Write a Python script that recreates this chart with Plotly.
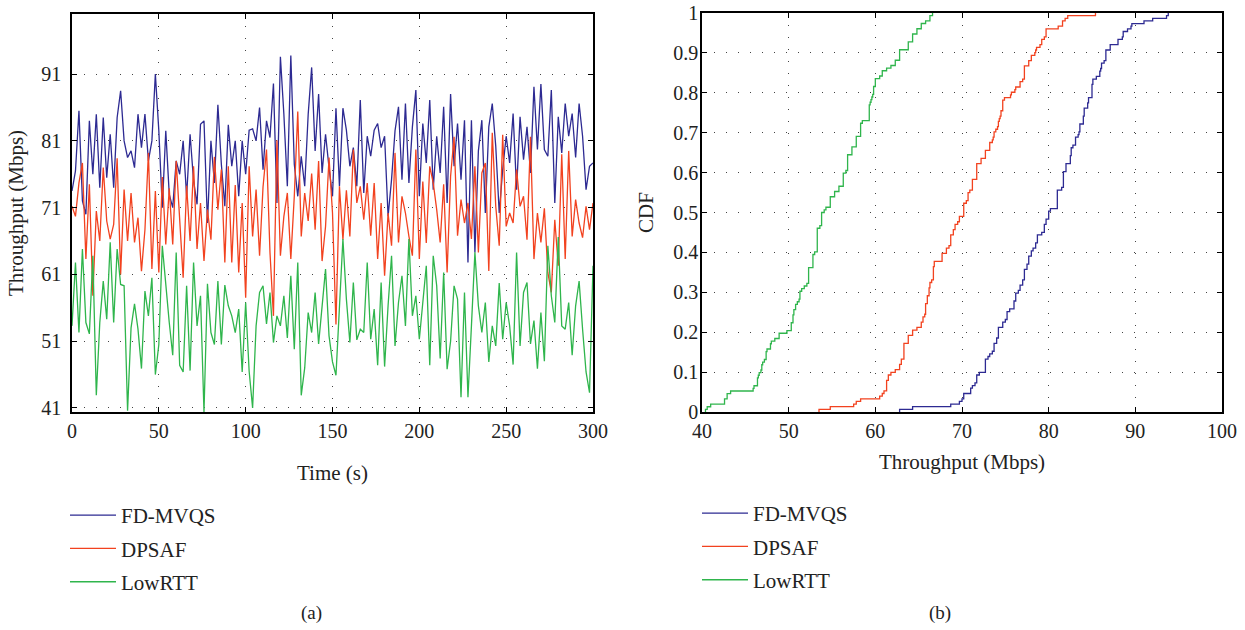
import numpy as np
import plotly.graph_objects as go

# time axis (s), one sample every 2 s
time_s = list(range(0, 301, 2))

fd_mvqs = [73.5, 76.5, 85.5, 72, 70, 84, 76, 85, 74, 84.5, 75.5, 82, 74, 84.5, 88.5, 81,
           78.5, 79.5, 77, 85, 80, 85, 78, 81, 91, 82.5, 71, 82.5, 73, 71, 78, 76,
           81, 72.7, 82, 75, 71.5, 83.5, 84, 68.7, 81, 74.7, 86.4, 77.5, 71.2, 83.4, 77.2, 81,
           72.7, 81, 76, 82.6, 82.8, 81, 86, 76.7, 84, 81.5, 89.6, 71.7, 93.6, 85,
           74.2, 93.8, 77.5, 72.7, 78.7, 74.2, 85, 92, 79.5, 88, 76.2, 82, 77, 72.7,
           85.9, 74.2, 85.9, 82.6, 77.2, 80, 74.2, 87.1, 73.2, 81.7, 78.7, 82.6, 83.6, 80,
           81.7, 69.7, 75.2, 82.5, 86.1, 75.2, 86.6, 74.7, 83.1, 88.6, 72.7, 83.6, 77.7, 87.1,
           73.7, 81.7, 76.2, 86.1, 71.7, 88, 77.2, 83.6, 75.2, 84.1, 62.8, 84.1, 64.3, 79.5,
           84.1, 70.2, 83.1, 86.6, 80.2, 70.2, 76.7, 81.7, 77.7, 85.1, 73.7, 84.6, 78.2, 83.1,
           76.2, 89.1, 79.7, 89.5, 79.7, 78.7, 88.6, 71.7, 84.6, 79.2, 86.6, 81.7, 85.1, 78.5,
           86.6, 81.7, 73.7, 77.2, 77.7]

dpsaf = [71.2, 69.7, 74.7, 77.7, 63.3, 74.5, 57.8, 70.5, 66, 77, 69, 66.3, 68.5, 78.4, 61, 73.7,
         66, 73.2, 65.8, 69.5, 61.5, 67.7, 79.2, 61.8, 73.5, 61.3, 75.6, 65.5, 73.9, 65.5, 78, 68.7,
         60.5, 74.3, 66, 77.2, 64.8, 71.7, 63, 70.7, 66.2, 78.6, 70.7, 76.7, 62.8, 77.2, 62.8, 74.4,
         61.3, 71.7, 57.5, 77.2, 66.7, 73.7, 63.8, 74.1, 79.7, 64.3, 54.8, 81.1, 63.8, 69.7,
         73.2, 63.3, 72.7, 85.4, 66.7, 73.2, 69, 76.1, 67.7, 78, 63, 68.2, 78.5, 70.2,
         53.5, 74.2, 66.2, 73.6, 66.7, 79.7, 71.7, 74.2, 69.2, 74.7, 66.8, 74.7, 63.3, 71.7, 60.8, 70.2,
         65.3, 79.2, 65.8, 72.7, 70.2, 66.7, 63.8, 79.7, 63.3, 74.9, 65.7, 77.2, 74.7, 70.7, 65.8, 74.5,
         61.3, 75.7, 81.6, 66.8, 72.2, 68.7, 71.7, 66.3, 77.2, 64.3, 76.2, 77.7, 61.5, 82.2, 71.2, 65.3,
         81.9, 68.2, 70.2, 68.7, 76.7, 71.2, 72.7, 66.2, 81.6, 63.3, 70.2, 65.8, 70.9, 61.3, 58.3, 69.2,
         62.3, 79, 63.3, 79.5, 66.7, 72.2, 68.7, 66.5, 71.2, 67.7, 71.7]

lowrtt = [53.3, 62.8, 52.3, 64.8, 53.8, 52.1, 63.8, 42.9, 53.8, 60, 54.3, 65.8, 53.8, 64.8, 59.5, 59.3,
          40.6, 53, 56.6, 52.8, 46.9, 58.5, 54.8, 60.5, 46, 50.5, 65.3, 59.3, 53.8, 48.9, 64.3, 47.4,
          46.4, 59.3, 46.6, 62.8, 53.3, 57.8, 40.4, 59.6, 52.3, 50.5, 60, 50.5, 59.4, 56.3, 54.8, 52.3,
          55.8, 46.4, 56.8, 46.5, 41, 53.3, 58.3, 59.3, 53.6, 58.3, 50.8, 54.8, 53.3, 57.8, 51.5, 60.8,
          49.8, 62.8, 42.9, 47, 55.3, 52.3, 58.3, 50.6, 56.3, 61.8, 51.8, 47.9, 45.9, 57.3, 66.3, 57.3,
          50.8, 59.8, 51.2, 52.8, 52.3, 62.8, 51.3, 55.8, 47.4, 59.8, 47.2, 56.3, 63.8, 50.3, 56.8, 60.8,
          53.3, 66.3, 54.8, 57.8, 51.3, 56.8, 62.3, 47.4, 63.8, 59.3, 48.4, 61.3, 46.8, 51, 59.3, 57.3,
          42.6, 58.3, 42.6, 53.3, 64.3, 56.3, 52.3, 56.8, 47.9, 53.3, 50.3, 59.7, 51.3, 56.8, 53.3, 47.5,
          64.3, 50.3, 58.3, 59.8, 50.6, 54.1, 46.9, 55.3, 48, 65.3, 57.8, 53.8, 66.6, 53.3, 52.8, 56.8,
          48.9, 56.3, 60, 52.8, 46.4, 43.3, 62.3, 52.8]

names = ["FD-MVQS", "DPSAF", "LowRTT"]
colors = ["#2d2a92", "#f2421f", "#2fb54c"]
series = [fd_mvqs, dpsaf, lowrtt]

W, H = 1245, 630


def xp(px):
    return px / W


def yp(py):
    return 1 - py / H


font = "Liberation Serif"
fig = go.Figure()

for name, col, vals in zip(names, colors, series):
    fig.add_trace(go.Scatter(x=time_s, y=vals, mode="lines", name=name,
                             legendgroup="a_" + name,
                             line=dict(color=col, width=1.3), legend="legend"))

# CDF of the same throughput samples
for name, col, vals in zip(names, colors, series):
    s = np.sort(np.array(vals, dtype=float))
    cdf = np.arange(1, len(s) + 1) / len(s)
    xs = np.concatenate([[s[0]], s])
    ys = np.concatenate([[0.0], cdf])
    fig.add_trace(go.Scatter(x=xs, y=ys, mode="lines", name=name, line_shape="hv",
                             legendgroup="b_" + name,
                             line=dict(color=col, width=1.3),
                             xaxis="x2", yaxis="y2", legend="legend2"))

axis_common = dict(showline=True, linecolor="black", linewidth=1.5, mirror="allticks",
                   ticks="inside", ticklen=5, tickcolor="black", zeroline=False,
                   automargin=False, ticklabeloverflow="allow",
                   showgrid=True, gridcolor="#444", gridwidth=1, griddash="1px,11px",
                   tickfont=dict(size=20, color="#222"),
                   title_font=dict(size=21, color="#222"))

legend_common = dict(xanchor="left", yanchor="top", bgcolor="rgba(0,0,0,0)",
                     font=dict(size=21, color="#222"), tracegroupgap=3, itemwidth=46)

fig.update_layout(
    width=W, height=H,
    margin=dict(l=0, r=0, t=0, b=0),
    paper_bgcolor="white", plot_bgcolor="white",
    font=dict(family=font, color="#222"),
    xaxis=dict(domain=[xp(72), xp(593)], range=[0, 300], tick0=0, dtick=50,
               title=dict(text="Time (s)", standoff=25), anchor="y", **axis_common),
    yaxis=dict(domain=[yp(412), yp(14)], range=[40.4, 100], tick0=41, dtick=10,
               ticklabelstandoff=5,
               title=dict(text="Throughput (Mbps)", standoff=12), anchor="x", **axis_common),
    xaxis2=dict(domain=[xp(702), xp(1222)], range=[40, 100], tick0=40, dtick=10,
                title=dict(text="Throughput (Mbps)", standoff=14), anchor="y2", **axis_common),
    yaxis2=dict(domain=[yp(412), yp(13)], range=[0, 1], tick0=0, dtick=0.1,
                ticklabelstandoff=-2,
                title=dict(text="CDF", standoff=14), anchor="x2", **axis_common),
    legend=dict(x=xp(65), y=yp(495), **legend_common),
    legend2=dict(x=xp(697), y=yp(493), **legend_common),
    annotations=[
        dict(text="(a)", x=xp(311), y=yp(613), xref="paper", yref="paper", showarrow=False,
             xanchor="center", yanchor="middle", font=dict(size=19, color="#222")),
        dict(text="(b)", x=xp(940), y=yp(613), xref="paper", yref="paper", showarrow=False,
             xanchor="center", yanchor="middle", font=dict(size=19, color="#222")),
    ],
)

# drop the default page margin so the figure sits at the window's top-left corner
fig.write_html("out.html", config={"displayModeBar": False},
               post_script="document.body.style.margin='0';")
